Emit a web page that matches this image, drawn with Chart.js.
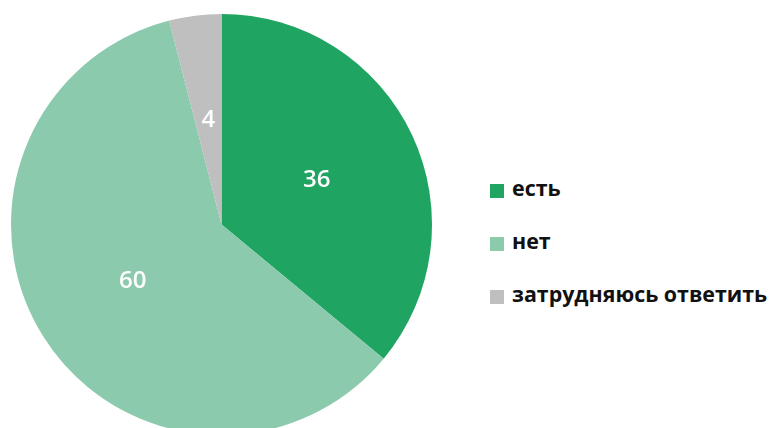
<!DOCTYPE html>
<html lang="ru">
<head>
<meta charset="UTF-8">
<title>Pie</title>
<script src="https://cdn.jsdelivr.net/npm/chart.js"></script>
<style>
  html, body { margin: 0; padding: 0; background: #fff; }
  body { width: 769px; height: 428px; overflow: hidden; position: relative; }
  .pie-box { position: absolute; left: 0; top: 0; width: 453px; height: 460px; }
  .legend { position: absolute; left: 490px; top: 173px; font-family: "Open Sans", sans-serif; font-weight: 700; font-size: 21.4px; color: #111; }
  .legend .item { height: 53px; display: flex; align-items: flex-start; white-space: nowrap; }
  .legend .sw { width: 14px; height: 14px; margin-top: 11px; margin-right: 8px; flex: none; }
</style>
</head>
<body>
<div class="pie-box"><canvas id="pie"></canvas></div>
<div class="legend" id="legend"></div>

<script>
const categories = ['есть', 'нет', 'затрудняюсь ответить'];
const values = [36, 60, 4];
const colors = ['#1fa461', '#8bcaad', '#bfbfbf'];

// подписи значений в центре сектора
const sliceLabels = {
  id: 'sliceLabels',
  afterDatasetsDraw(chart) {
    const ctx = chart.ctx;
    const meta = chart.getDatasetMeta(0);
    ctx.save();
    ctx.fillStyle = '#fff';
    ctx.font = '600 24px "Open Sans", sans-serif';
    ctx.textAlign = 'center';
    ctx.textBaseline = 'middle';
    meta.data.forEach(function (arc, i) {
      const p = arc.tooltipPosition();
      ctx.fillText(values[i], p.x, p.y);
    });
    ctx.restore();
  }
};

new Chart(document.getElementById('pie'), {
  type: 'pie',
  data: {
    labels: categories,
    datasets: [{
      data: values,
      backgroundColor: colors,
      borderWidth: 0
    }]
  },
  options: {
    responsive: true,
    maintainAspectRatio: false,
    animation: false,
    layout: { padding: { left: 11, top: 14, right: 21, bottom: 25 } },
    plugins: {
      legend: { display: false },
      tooltip: { enabled: false }
    }
  },
  plugins: [sliceLabels]
});

// легенда справа
const legend = document.getElementById('legend');
categories.forEach(function (name, i) {
  const row = document.createElement('div');
  row.className = 'item';
  const sw = document.createElement('span');
  sw.className = 'sw';
  sw.style.background = colors[i];
  const txt = document.createElement('span');
  txt.textContent = name;
  row.appendChild(sw);
  row.appendChild(txt);
  legend.appendChild(row);
});
</script>
</body>
</html>
